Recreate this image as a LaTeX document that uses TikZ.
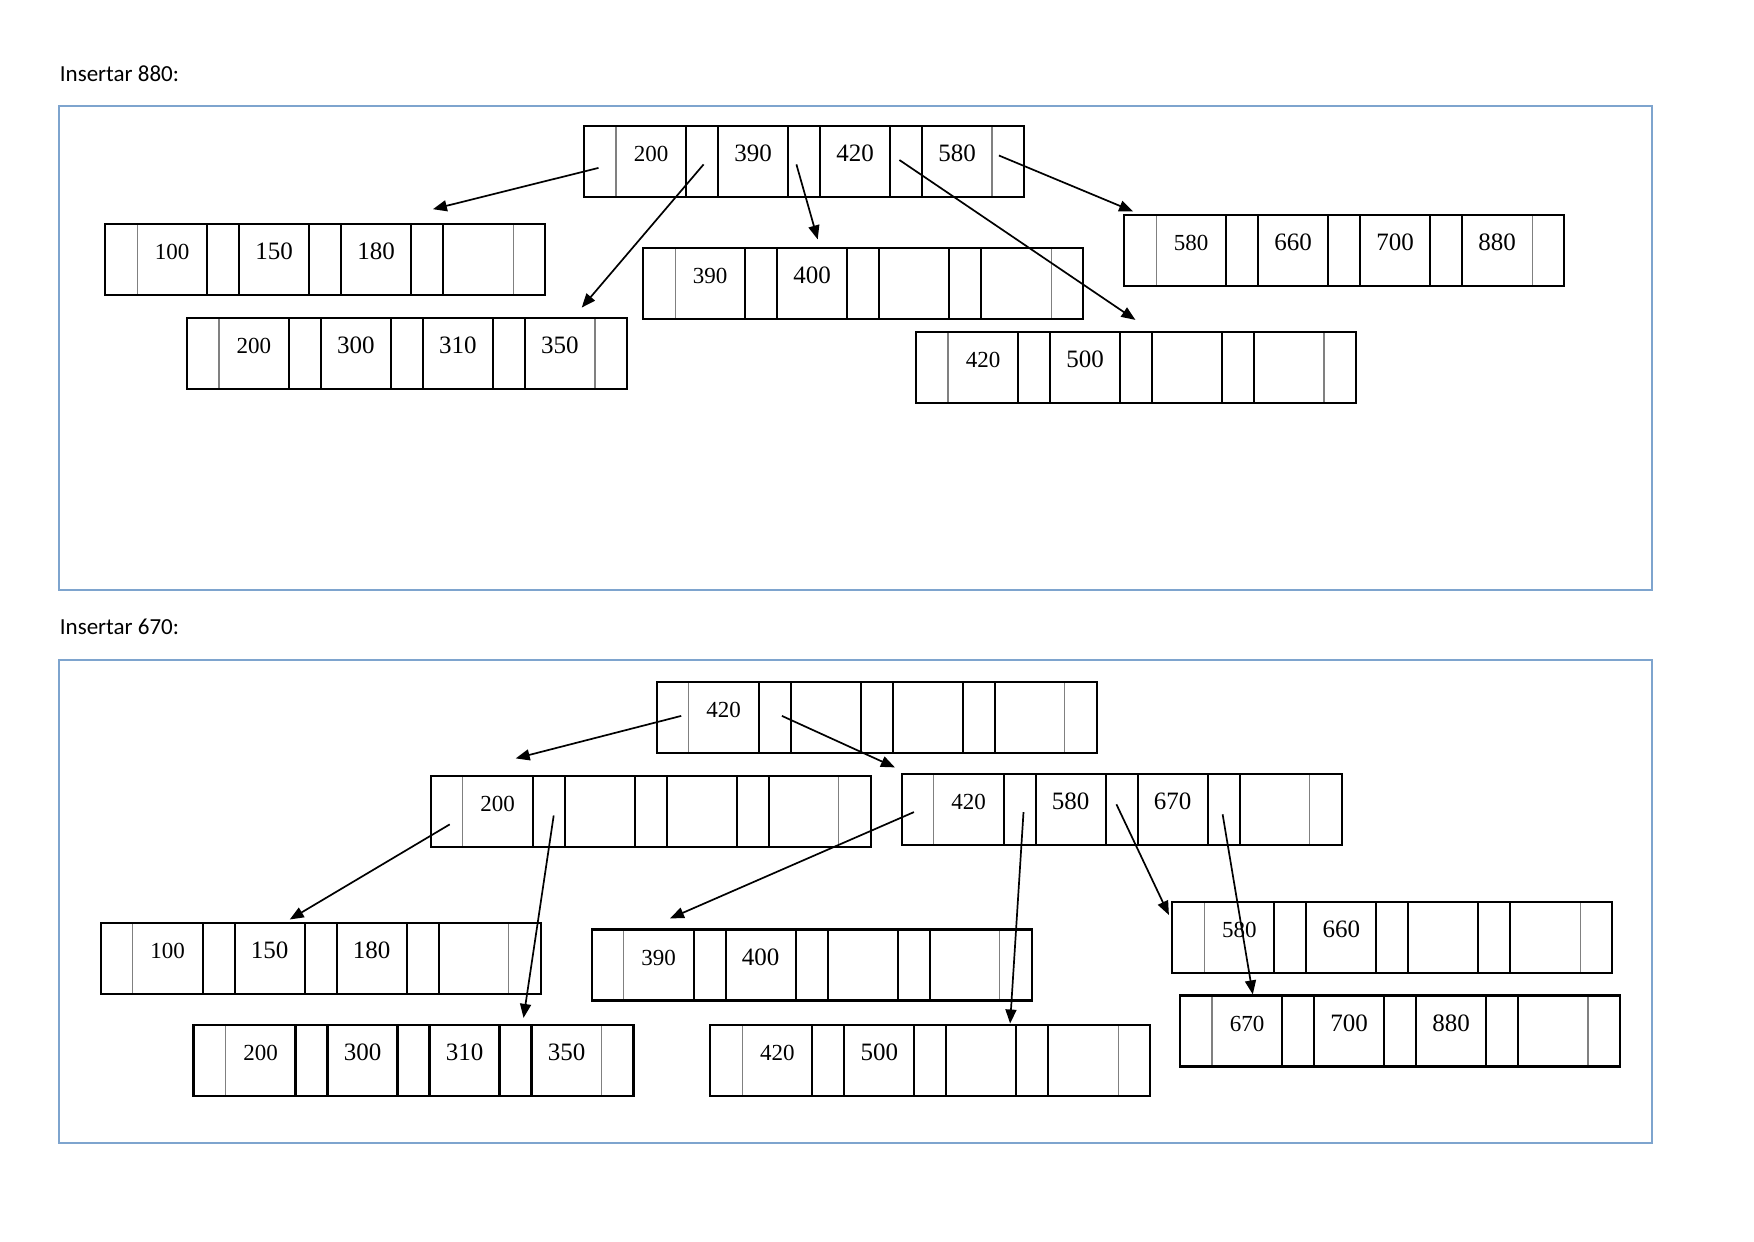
\documentclass[tikz,border=0pt]{standalone}
\usepackage{fontspec}
\setmainfont{Liberation Serif}
\newfontfamily\labelfont{Carlito}
\usetikzlibrary{arrows.meta,calc}

\definecolor{framecol}{RGB}{126,164,206}
\definecolor{cellgray}{RGB}{128,128,128}
\newcommand\keybig{\fontsize{12.5}{14}\selectfont}
\newcommand\keysmall{\fontsize{11.5}{13}\selectfont}

\tikzset{
  frame/.style={draw=framecol, line width=1pt},
  lbl/.style={font=\labelfont\fontsize{11.5}{13}\selectfont, inner sep=0pt, anchor=base west},
  outer/.style={minimum width=220pt, minimum height=35.5pt, inner sep=0pt, outer sep=0pt, anchor=north west},
  outerline/.style={line width=1.1pt},
  divider/.style={draw=cellgray, line width=0.7pt},
  ptrbox/.style={line width=1.1pt},
  key/.style={font=\keybig, inner sep=0pt, anchor=base},
  keysm/.style={font=\keysmall, inner sep=0pt, anchor=base},
  ptr/.style={-{Triangle[length=7pt,width=5.5pt]}, line width=0.85pt},
}

% one B-tree page: name, position, four keys
\newcommand\btnode[6]{%
  \node[outer] (#1) at (#2) {};
  \begin{scope}[shift={(#1.north west)}]
    \foreach \i in {0,...,3}
      \draw[divider] (32+102*\i,0) -- ++(0,71);
    \draw[divider] (408,0) -- ++(0,71);
    \foreach \i in {1,2,3}
      \draw[ptrbox] (102*\i,0) rectangle ++(32,71);
    \foreach \i in {0,...,4}
      \coordinate (#1-p\i) at (16+102*\i,35.5);
    \node[keysm] (#1-k1) at (67,35.5) {#3};
    \node[key] (#1-k2) at (169,35.5) {#4};
    \node[key] (#1-k3) at (271,35.5) {#5};
    \node[key] (#1-k4) at (373,35.5) {#6};
    \draw[outerline] (0,0) rectangle (440,71);
  \end{scope}
}

\begin{document}
\begin{tikzpicture}[x=0.5pt,y=-0.5pt]
  \useasboundingbox (0,0) rectangle (1754,1241);

  % insertar 880
  \node[lbl] (title1) at (59.5,81.5) {Insertar 880:};
  \draw[frame] (59.3,106.3) rectangle (1652.2,589.5);

  \btnode{rootA}{584,126.4}{200}{390}{420}{580}
  \btnode{leafA}{105.2,223.7}{100}{150}{180}{}
  \btnode{leafB}{186.8,317.7}{200}{300}{310}{350}
  \btnode{leafC}{643.2,248.3}{390}{400}{}{}
  \btnode{leafD}{1124.2,214.8}{580}{660}{700}{880}
  \btnode{leafE}{916.1,332.2}{420}{500}{}{}

  \draw[ptr] ($(rootA-p0)+(-1.5,6)$) -- ($(leafA.north west)+(327.7,-14.5)$);
  \draw[ptr] ($(rootA-p1)+(1.6,2.5)$) -- ($(leafB.north west)+(394.9,-10.1)$);
  \draw[ptr] ($(rootA-p2)+(-7.6,2.5)$) -- ($(leafC.north west)+(174.5,-8.9)$);
  \draw[ptr] ($(rootA-p3)+(-6.6,-1.9)$) -- ($(leafE.north west)+(219.3,-12.3)$);
  \draw[ptr] ($(rootA-p4)+(-9.1,-6.4)$) -- ($(leafD.north west)+(8.9,-3.4)$);

  % insertar 670
  \node[lbl] (title2) at (59.5,634.5) {Insertar 670:};
  \draw[frame] (59.3,660) rectangle (1652.2,1143.2);

  \btnode{rootB}{656.6,682.3}{420}{}{}{}
  \btnode{midL}{430.7,776.3}{200}{}{}{}
  \btnode{midR}{901.6,774}{420}{580}{670}{}
  \btnode{leaf1}{100.7,922.8}{100}{150}{180}{}
  \btnode{leaf2}{193.5,1024.6}{200}{300}{310}{350}
  \btnode{leaf3}{591.7,929.5}{390}{400}{}{}
  \btnode{leaf4}{710.3,1024.6}{420}{500}{}{}
  \btnode{leaf5}{1172.3,901.6}{580}{660}{}{}
  \btnode{leaf6}{1180.1,995.5}{670}{700}{880}{}

  \draw[ptr] ($(rootB-p0)+(8.6,-1.9)$) -- ($(midL.north west)+(85,-17.9)$);
  \draw[ptr] ($(rootB-p1)+(7.3,-1.9)$) -- ($(midR.north west)+(-6.7,-6.6)$);
  \draw[ptr] ($(midL-p0)+(3,12.6)$) -- ($(leaf1.north west)+(189,-3.3)$);
  \draw[ptr] ($(midL-p1)+(5,3.7)$) -- ($(leaf2.north west)+(330,-6.7)$);
  \draw[ptr] ($(midR-p0)+(-3.7,2.6)$) -- ($(leaf3.north west)+(78.3,-11.1)$);
  \draw[ptr] ($(midR-p1)+(3.9,2.6)$) -- ($(leaf4.north west)+(299.8,-1.1)$);
  \draw[ptr] ($(midR-p2)+(-5.2,-5.2)$) -- ($(leaf5.north west)+(-3.4,13.4)$);
  \draw[ptr] ($(midR-p3)+(-1,4.8)$) -- ($(leaf6.north west)+(72.7,-1.1)$);
\end{tikzpicture}
\end{document}
